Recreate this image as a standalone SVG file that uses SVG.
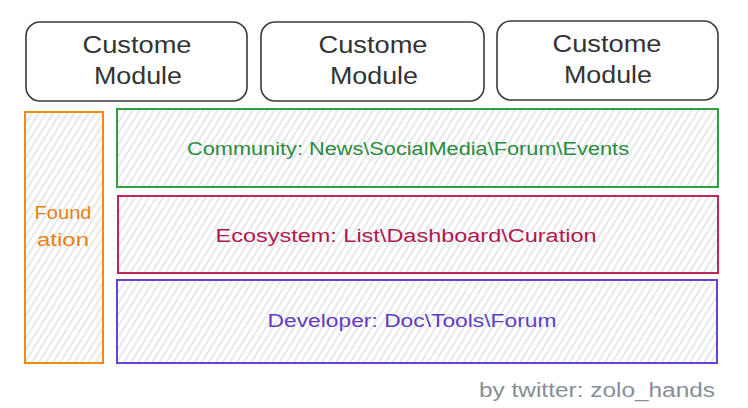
<svg xmlns="http://www.w3.org/2000/svg" width="748" height="408" viewBox="0 0 748 408">
  <defs>
    <pattern id="hachure" width="6" height="6" patternUnits="userSpaceOnUse" patternTransform="rotate(32)">
      <line x1="3" y1="0" x2="3" y2="6" stroke="#cdd2d8" stroke-width="1"/>
    </pattern>
    <style>
      text { font-family: "Liberation Sans", "DejaVu Sans", sans-serif; text-anchor: middle; }
      .module rect { fill: #ffffff; stroke: #3a3a3a; stroke-width: 1.6; }
      .module text { font-size: 23px; fill: #333333; }
      .layer rect { fill: url(#hachure); stroke-width: 2; }
      .layer text { font-size: 18px; }
      .green rect { stroke: #2f9e44; } .green text { fill: #2b8a3e; }
      .red rect { stroke: #c2255c; } .red text { fill: #b0184f; }
      .purple rect { stroke: #6741d9; } .purple text { fill: #5f3dc4; }
      .orange rect { stroke: #ef8a12; } .orange text { fill: #ea8210; }
      .credit { font-size: 20px; fill: #868e96; }
    </style>
  </defs>
  <rect width="748" height="408" fill="#ffffff"/>

  <g id="module1" class="module">
    <rect x="26" y="22" width="221" height="79" rx="14"/>
    <text x="137" y="53" textLength="109" lengthAdjust="spacingAndGlyphs">Custome</text>
    <text x="138" y="84" textLength="88" lengthAdjust="spacingAndGlyphs">Module</text>
  </g>
  <g id="module2" class="module">
    <rect x="261" y="22" width="223" height="79" rx="14"/>
    <text x="373" y="53" textLength="109" lengthAdjust="spacingAndGlyphs">Custome</text>
    <text x="374" y="84" textLength="88" lengthAdjust="spacingAndGlyphs">Module</text>
  </g>
  <g id="module3" class="module">
    <rect x="497" y="21" width="221" height="79" rx="14"/>
    <text x="607" y="52" textLength="109" lengthAdjust="spacingAndGlyphs">Custome</text>
    <text x="608" y="83" textLength="88" lengthAdjust="spacingAndGlyphs">Module</text>
  </g>

  <g id="foundation" class="layer orange">
    <rect x="25" y="112" width="78" height="251"/>
    <text x="63" y="219" textLength="57" lengthAdjust="spacingAndGlyphs">Found</text>
    <text x="63" y="246" textLength="52" lengthAdjust="spacingAndGlyphs">ation</text>
  </g>
  <g id="community" class="layer green">
    <rect x="117" y="109" width="601" height="78"/>
    <text x="408" y="155" textLength="442" lengthAdjust="spacingAndGlyphs">Community: News\SocialMedia\Forum\Events</text>
  </g>
  <g id="ecosystem" class="layer red">
    <rect x="118" y="196" width="600" height="77"/>
    <text x="406" y="242" textLength="381" lengthAdjust="spacingAndGlyphs">Ecosystem: List\Dashboard\Curation</text>
  </g>
  <g id="developer" class="layer purple">
    <rect x="117" y="280" width="600" height="83"/>
    <text x="412" y="327" textLength="289" lengthAdjust="spacingAndGlyphs">Developer: Doc\Tools\Forum</text>
  </g>

  <g id="connectors"/>

  <text class="credit" x="597" y="397" textLength="236" lengthAdjust="spacingAndGlyphs">by twitter: zolo_hands</text>
</svg>
